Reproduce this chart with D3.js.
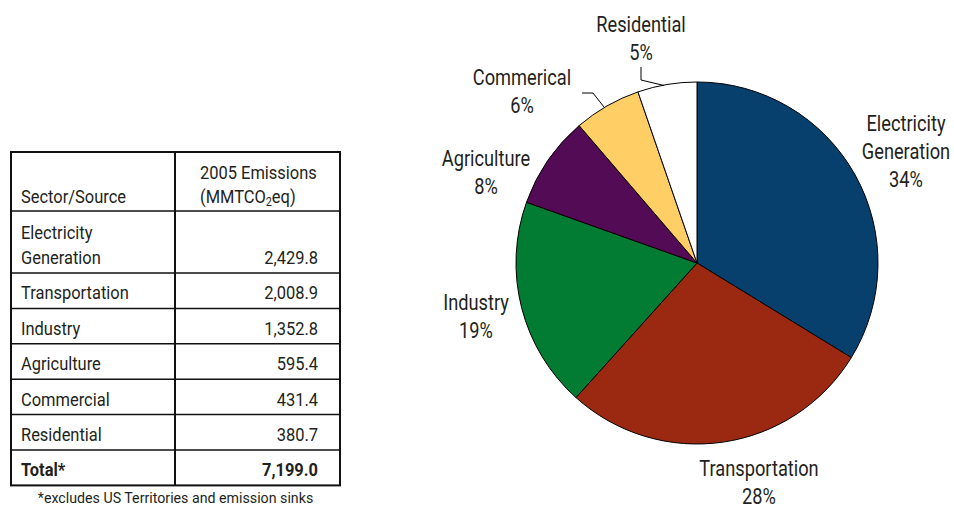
<!DOCTYPE html>
<html>
<head>
<meta charset="utf-8">
<script src="https://cdn.jsdelivr.net/npm/d3@7"></script>
<style>
  html, body { margin: 0; padding: 0; background: #fff; }
  svg { display: block; }
  text { font-family: Roboto, "Liberation Sans", sans-serif; fill: #231f20; }
</style>
</head>
<body>
<svg id="chart" width="954" height="508"></svg>
<script>
// Sector names as listed in the table (multi-line where wrapped)
const tableSectors = [["Electricity", "Generation"], ["Transportation"], ["Industry"], ["Agriculture"], ["Commercial"], ["Residential"]];
// 2005 emissions by sector, MMTCO2eq
const emissions = [2429.8, 2008.9, 1352.8, 595.4, 431.4, 380.7];
// Stated national total (excludes US Territories and emission sinks)
const totalEmissions = 7199.0;
// Pie slice labels (as printed on the pie)
const pieLabels = [["Electricity", "Generation"], ["Transportation"], ["Industry"], ["Agriculture"], ["Commerical"], ["Residential"]];
const sliceColors = ["#073f6d", "#9b2911", "#027b33", "#540b56", "#ffce64", "#ffffff"];

const svg = d3.select("#chart");
const fmt = d3.format(",.1f");

// condensed-looking text: horizontally squeezed around its anchor point
function label(parent, x, y, str, o = {}) {
  const t = parent.append("text")
    .attr("transform", `translate(${x},${y}) scale(${o.sx || 0.9},1)`)
    .attr("font-size", o.size || 18)
    .attr("text-anchor", o.anchor || "start");
  if (o.bold) t.attr("font-weight", "bold");
  if (str !== null) t.text(str);
  return t;
}

// ---------- Table ----------
const tbl = svg.append("g");
const tLeft = 11, tRight = 340, tDiv = 175;
const headTop = 152, headBottom = 211;
const rowH = 35.4, firstRowH = 62;
const TS = { size: 18.3, sx: 0.9 };

// row boundaries
const rowEdges = [headBottom];
tableSectors.forEach((s, i) => rowEdges.push(rowEdges[i] + (s.length > 1 ? firstRowH : rowH)));
rowEdges.push(rowEdges[rowEdges.length - 1] + rowH); // total row
const tBottom = rowEdges[rowEdges.length - 1];

// header text
label(tbl, tLeft + 10, headBottom - 8, "Sector/Source", TS);
label(tbl, tDiv + 25, headBottom - 32, "2005 Emissions", TS);
const unit = label(tbl, tDiv + 25, headBottom - 8, null, TS);
unit.append("tspan").text("(MMTCO");
unit.append("tspan").attr("font-size", 12).attr("dy", 3).text("2");
unit.append("tspan").attr("dy", -3).text("eq)");

// body rows
tableSectors.forEach((lines, i) => {
  const base = rowEdges[i + 1] - 9;
  lines.forEach((ln, j) => label(tbl, tLeft + 10, base - (lines.length - 1 - j) * 25.3, ln, TS));
  label(tbl, tRight - 22, base, fmt(emissions[i]), { ...TS, anchor: "end" });
});
// total row
label(tbl, tLeft + 10, tBottom - 9, "Total*", { ...TS, bold: true });
label(tbl, tRight - 22, tBottom - 9, fmt(totalEmissions), { ...TS, bold: true, anchor: "end" });

// row rules
rowEdges.slice(0, -1).forEach(y => {
  tbl.append("line").attr("x1", tLeft).attr("x2", tRight).attr("y1", y).attr("y2", y)
    .attr("stroke", "#111").attr("stroke-width", 1.5);
});
// column divider and outer frame
tbl.append("line").attr("x1", tDiv).attr("x2", tDiv).attr("y1", headTop).attr("y2", tBottom)
  .attr("stroke", "#111").attr("stroke-width", 2);
tbl.append("rect").attr("x", tLeft).attr("y", headTop).attr("width", tRight - tLeft).attr("height", tBottom - headTop)
  .attr("fill", "none").attr("stroke", "#111").attr("stroke-width", 2);

// footnote
label(tbl, (tLeft + tRight) / 2, tBottom + 18, "*excludes US Territories and emission sinks",
  { size: 14.5, sx: 0.98, anchor: "middle" });

// ---------- Pie ----------
const cx = 697, cy = 263, r = 181;
const sum = d3.sum(emissions);
const pie = d3.pie().sort(null).value(d => d)(emissions);
const arc = d3.arc().innerRadius(0).outerRadius(r);
const edge = d3.arc().innerRadius(r).outerRadius(r);

const pg = svg.append("g").attr("transform", `translate(${cx},${cy})`);
pg.selectAll("path.slice").data(pie).join("path")
  .attr("class", "slice")
  .attr("d", arc)
  .attr("fill", (d, i) => sliceColors[i])
  .attr("stroke", "#000").attr("stroke-width", 1);

// label anchors: centre x and first baseline (page coordinates)
const labelPos = [[906, 131], [759, 476], [476, 310], [486, 166], [522, 85], [641, 32]];
const lineGap = 28;
pieLabels.forEach((lines, i) => {
  const [lx, ly] = labelPos[i];
  const t = label(svg, lx, ly, null, { size: 22.5, sx: 0.81, anchor: "middle" });
  const all = lines.concat([Math.round(emissions[i] / sum * 100) + "%"]);
  all.forEach((ln, j) => t.append("tspan").attr("x", 0).attr("y", j * lineGap).text(ln));
});

// leader lines for the two narrow slices
const leaderKinks = { 4: [[582, 93], [593, 93]], 5: [[641, 67], [641, 80]] };
Object.entries(leaderKinks).forEach(([i, pts]) => {
  const [ex, ey] = edge.centroid(pie[+i]);
  const path = d3.line()(pts.concat([[cx + ex - 3, cy + ey + 1]]));
  svg.append("path").attr("d", path).attr("fill", "none").attr("stroke", "#000").attr("stroke-width", 1);
});
</script>
</body>
</html>
